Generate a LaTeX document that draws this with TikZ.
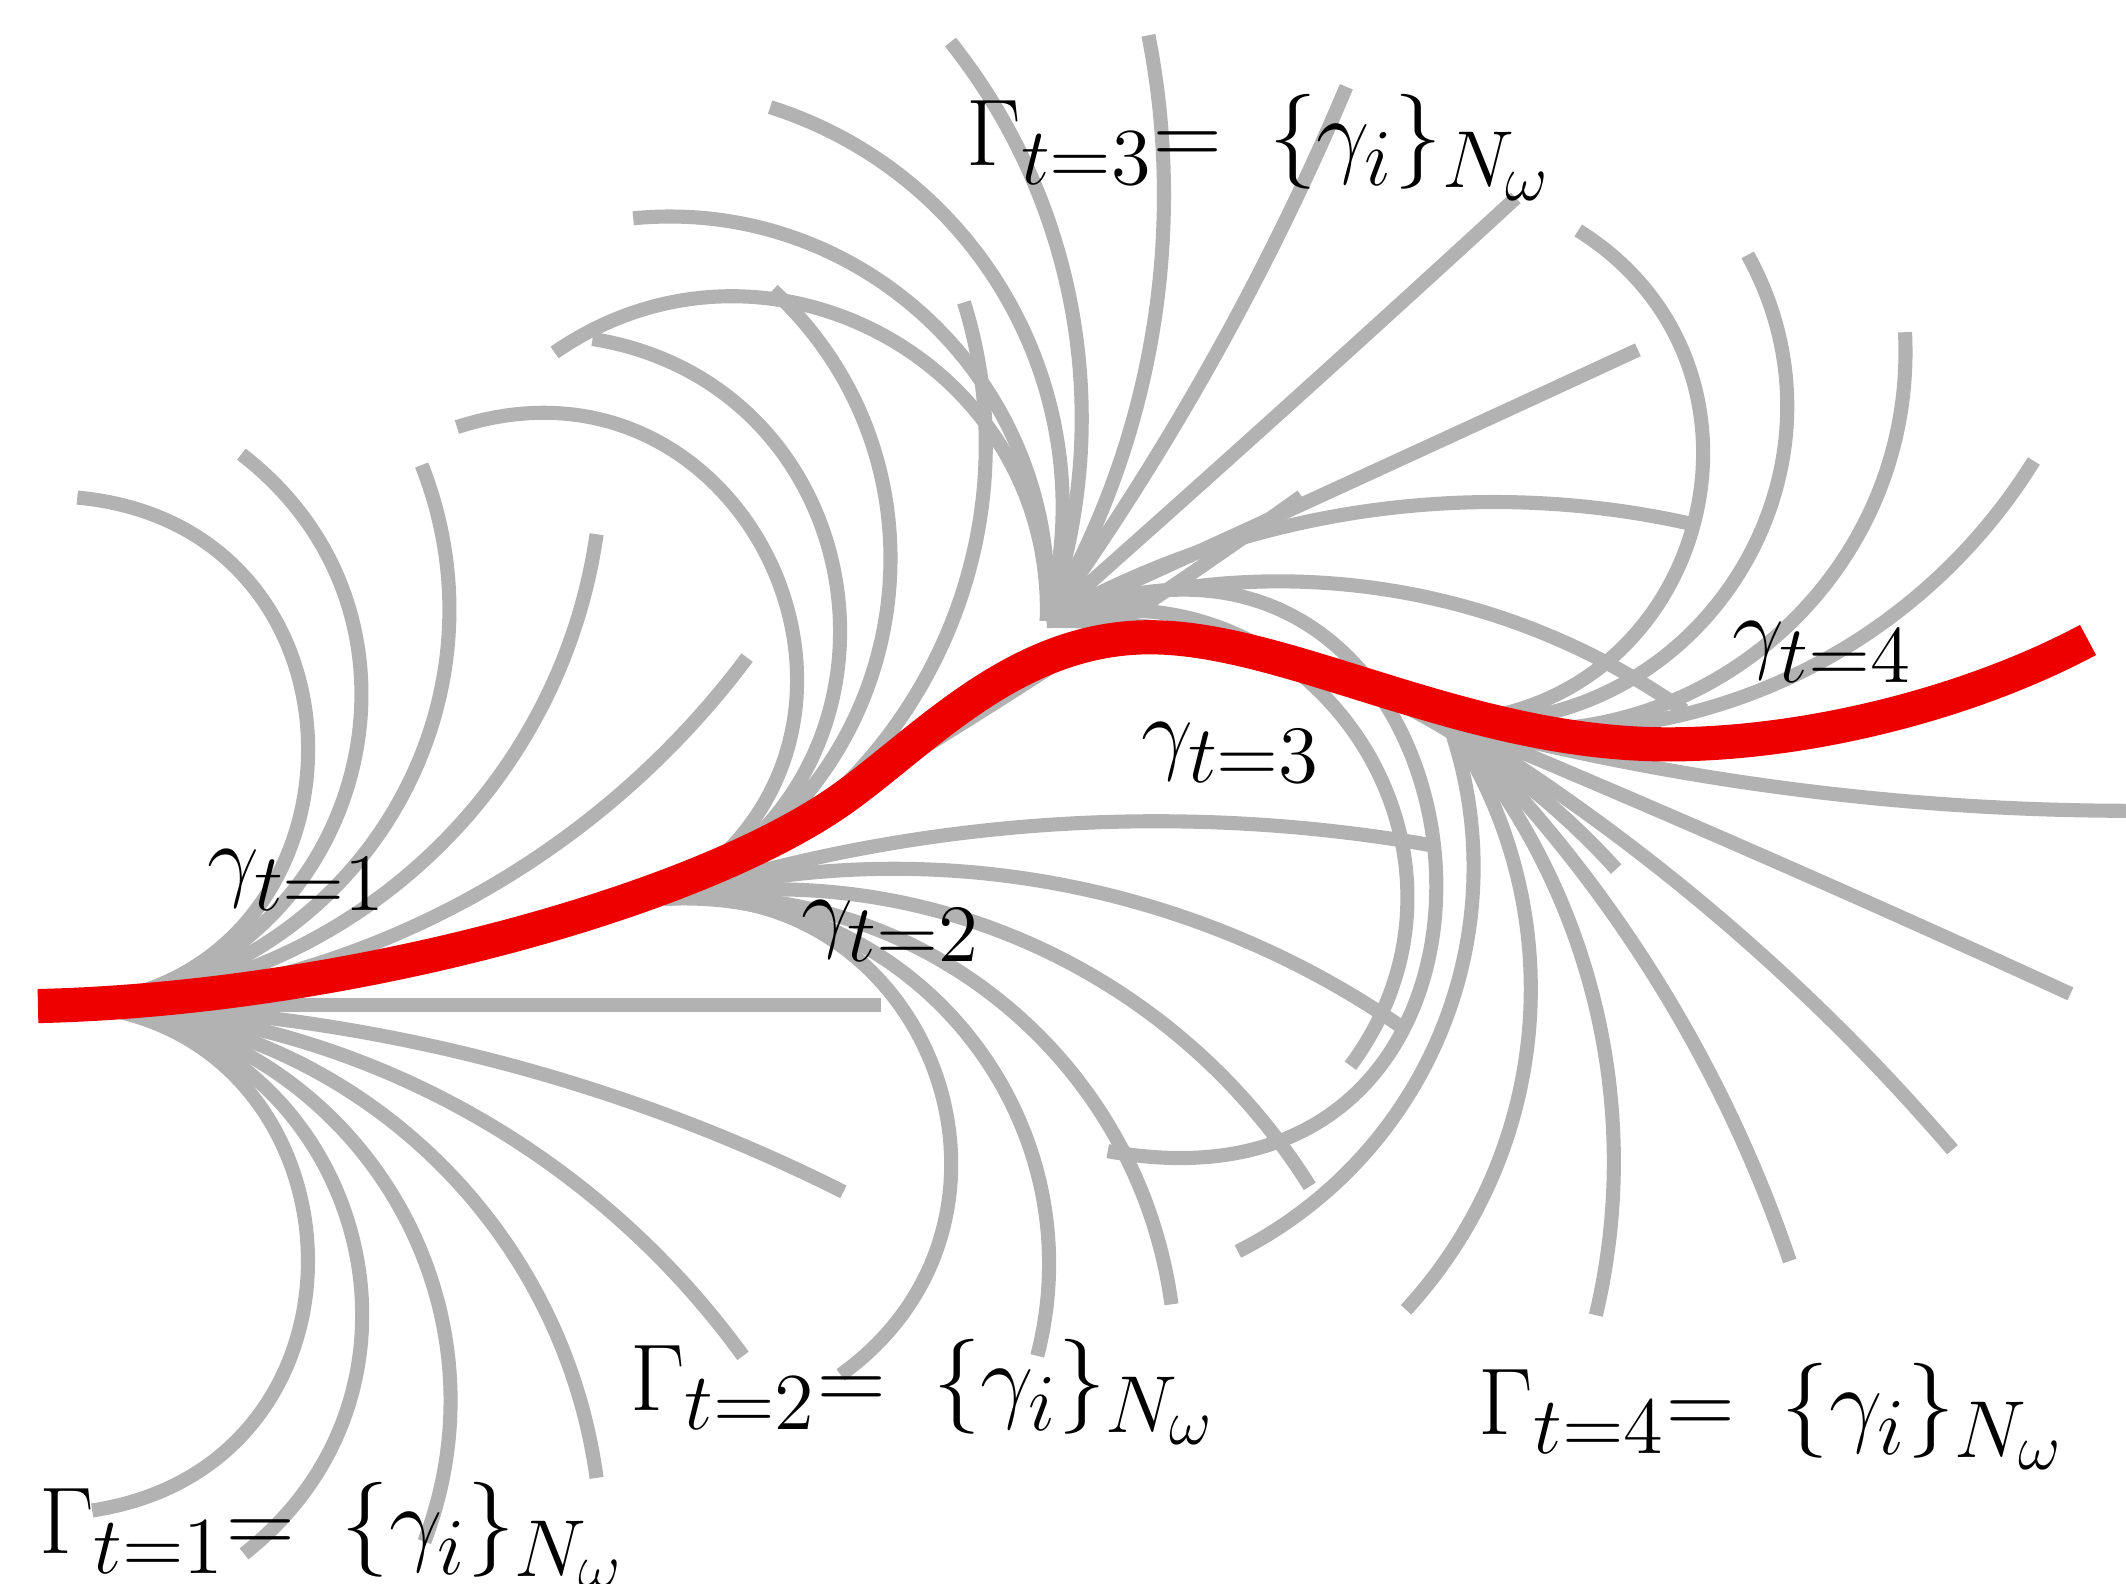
\RequirePackage{fix-cm}
\documentclass[tikz,border=0pt]{standalone}
\DeclareMathSizes{17.5}{17.5}{14.9}{12}
\DeclareMathSizes{17}{17}{15}{11.5}
\definecolor{grayc}{RGB}{178,178,178}
\definecolor{redc}{RGB}{238,0,0}
\newcommand\bigfnt{\fontsize{17.5}{21}\selectfont}
\newcommand\smlfnt{\fontsize{17}{20}\selectfont}
% arc from (#1,#2) leaving at angle #3 to (#4,#5) arriving with heading #6
\newcommand\fanT[6]{%
  \pgfmathsetmacro\fanIn{(#6)+180}%
  \pgfmathsetmacro\fanTurn{((#6)-(#3))/4}%
  \pgfmathsetmacro\fanLo{1/(3*0.3915*cos(\fanTurn)*cos(\fanTurn))}%
  \draw[garc] (#1,-#2) to[out=#3,in=\fanIn,looseness=\fanLo] (#4,-#5);}
% circular arc from (#1,#2) with start heading #3 to (#4,#5)
\newcommand\fanC[5]{%
  \pgfmathsetmacro\fanA{atan2((#2)-(#5),(#4)-(#1))}%
  \pgfmathsetmacro\fanD{mod(\fanA-(#3)+540,360)-180}%
  \pgfmathsetmacro\fanEE{(#3)+2*\fanD}%
  \fanT{#1}{#2}{#3}{#4}{#5}{\fanEE}}
% circular arc through (#1,#2), (#3,#4), (#5,#6)
\newcommand\fanP[6]{%
  \pgfmathsetmacro\fanOE{atan2((#2)-(#6),(#5)-(#1))}%
  \pgfmathsetmacro\fanOM{atan2((#2)-(#4),(#3)-(#1))}%
  \pgfmathsetmacro\fanME{atan2((#4)-(#6),(#5)-(#3))}%
  \pgfmathsetmacro\fanDa{mod(\fanOM-\fanOE+540,360)-180}%
  \pgfmathsetmacro\fanDb{mod(\fanME-\fanOE+540,360)-180}%
  \pgfmathsetmacro\fanO{\fanOE+\fanDa-\fanDb}%
  \pgfmathsetmacro\fanEP{\fanOE+\fanDb-\fanDa}%
  \fanT{#1}{#2}{\fanO}{#5}{#6}{\fanEP}}
\tikzset{
  garc/.style={draw=grayc, line width=2.6pt},
  redpath/.style={draw=redc, line width=6.3pt},
  lbl/.style={anchor=base west, inner sep=0pt, text=black}
}
\begin{document}
\begin{tikzpicture}[x=0.25pt,y=0.25pt]
\useasboundingbox (0,0) rectangle (1568,-1168);
% ---------- fan t=1
\foreach \ex/\ey in {57/367,178/335,311/343,440/394,551/485,650/741,622/879,548/1000,440/1090,313/1137,180/1146,68/1114}{\fanC{40}{741}{0}{\ex}{\ey}}
% ---------- fan t=2
\fanP{490}{663}{581}{449}{337}{315}
\fanP{490}{663}{611}{404}{437}{250}
\fanP{490}{663}{657}{404}{570}{214}
\fanP{490}{663}{725}{366}{711}{223}
\fanC{490}{663}{29}{960}{366}
\fanC{490}{663}{18}{1059}{624}
\fanC{490}{663}{15}{1033}{757}
\fanC{490}{663}{10}{966}{875}
\fanC{490}{663}{5}{864}{962}
\fanC{490}{663}{3}{765}{1000}
\fanC{490}{663}{5}{620}{1014}
% ---------- fan t=3
\fanP{772}{458}{671}{259}{409}{260}
\fanP{772}{458}{702}{253}{467}{161}
\fanP{772}{458}{729}{198}{568}{79}
\fanP{772}{458}{784}{198}{701}{31}
\fanP{772}{458}{856}{200}{847}{26}
\fanP{772}{458}{877}{296}{993}{64}
\fanC{772}{458}{41.5}{1118}{146}
\fanC{772}{458}{24.5}{1208}{258}
\fanP{772}{458}{1000}{378}{1250}{387}
\fanP{772}{458}{1046}{439}{1242}{524}
\fanP{772}{458}{1075}{543}{1192}{641}
\fanP{772}{458}{1037}{648}{996}{786}
\fanP{772}{458}{1055}{690}{817}{849}
% ---------- fan t=4
\fanP{1068}{532}{1256}{330}{1164}{170}
\fanP{1068}{532}{1316}{330}{1289}{188}
\fanP{1068}{532}{1347}{430}{1405}{245}
\fanP{1068}{532}{1425}{430}{1500}{340}
\fanP{1068}{532}{1347}{585}{1568}{598}
\fanP{1068}{532}{1320}{640}{1527}{733}
\fanP{1068}{532}{1320}{723}{1440}{848}
\fanP{1068}{532}{1255}{780}{1320}{930}
\fanP{1068}{532}{1181}{761}{1177}{970}
\fanP{1068}{532}{1129}{742}{1037}{966}
\fanP{1068}{532}{1081}{700}{913}{923}
% ---------- selected trajectory
\coordinate (r0) at (28,-742);
\coordinate (r1) at (620,-590);
\coordinate (r2) at (848,-470);
\coordinate (r3) at (1230,-549);
\coordinate (r4) at (1540,-472);
\draw[redpath] (r0) .. controls (250,-737) and (510,-667) .. (r1)
  .. controls (681,-547) and (748,-470) .. (r2)
  .. controls (950,-470) and (1080,-549) .. (r3)
  .. controls (1330,-549) and (1450,-520) .. (r4);
% ---------- labels
\node[lbl, font=\smlfnt] (g1) at (152,-656) {$\gamma_{t=1}$};
\node[lbl, font=\smlfnt] (g2) at (590,-694) {$\gamma_{t=2}$};
\node[lbl, font=\smlfnt] (g3) at (841,-562) {$\gamma_{t=3}$};
\node[lbl, font=\smlfnt] (g4) at (1277,-488) {$\gamma_{t=4}$};
\node[lbl, font=\bigfnt] (G1) at (28,-1146) {$\Gamma_{t=1}$=\hspace{0.5em}$\{\gamma_i\}_{N_\omega}$};
\node[lbl, font=\bigfnt] (G2) at (464,-1040) {$\Gamma_{t=2}$=\hspace{0.5em}$\{\gamma_i\}_{N_\omega}$};
\node[lbl, font=\bigfnt] (G3) at (712,-122) {$\Gamma_{t=3}$=\hspace{0.5em}$\{\gamma_i\}_{N_\omega}$};
\node[lbl, font=\bigfnt] (G4) at (1090,-1058) {$\Gamma_{t=4}$=\hspace{0.5em}$\{\gamma_i\}_{N_\omega}$};
\end{tikzpicture}
\end{document}
